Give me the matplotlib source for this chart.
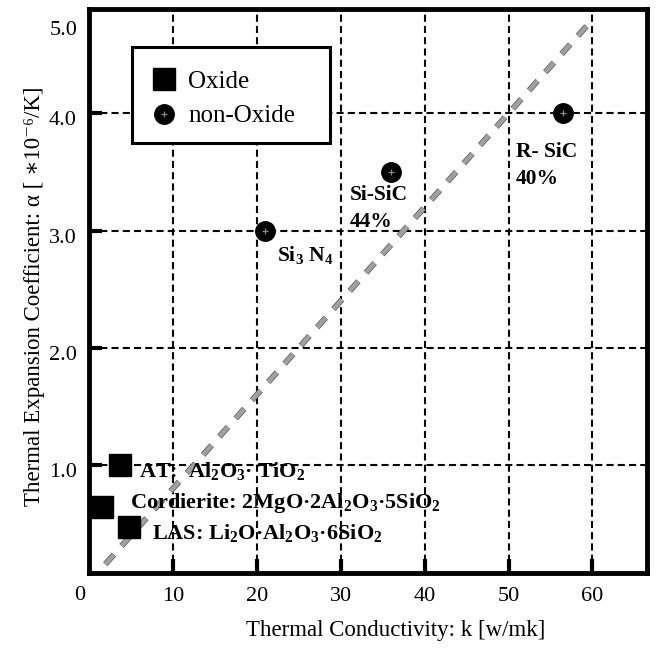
"""
Thermal expansion coefficient vs thermal conductivity of ceramic materials
"""
import numpy as np
import matplotlib.pyplot as plt
import matplotlib.transforms as mtransforms
from matplotlib.patches import Rectangle
from matplotlib import patheffects

plt.rcParams['font.family'] = ['Liberation Serif', 'DejaVu Serif']
plt.rcParams['mathtext.fontset'] = 'custom'
plt.rcParams['mathtext.rm'] = 'Liberation Serif'
plt.rcParams['mathtext.default'] = 'regular'

# Data
oxide_k = [3.7, 1.5, 4.8]
oxide_alpha = [1.0, 0.64, 0.47]
oxide_names = ['AT:  Al$_2$O$_3$· TiO$_2$',
               'Cordierite: 2MgO·2Al$_2$O$_3$·5SiO$_2$',
               'LAS: Li$_2$O·Al$_2$O$_3$·6SiO$_2$']

nonoxide_k = [21.0, 36.0, 56.5]
nonoxide_alpha = [3.0, 3.5, 4.0]
nonoxide_names = ['Si$_3$ N$_4$', 'Si-SiC\n44%', 'R- SiC\n40%']

trend_k = [0, 60]
trend_alpha = [0, 4.8]

x_ticks = [10, 20, 30, 40, 50, 60]
y_ticks = [1, 2, 3, 4]

# label anchor positions (data coords, baseline of first line)
oxide_label_pos = [(5.9, 0.90), (4.9, 0.633), (7.5, 0.37)]
nonoxide_label_pos = [(22.4, 2.74), (31.1, 3.26), (50.9, 3.63)]

fig = plt.figure(figsize=(6.59, 6.48), dpi=100)
ax = fig.add_axes([89/659, 1-573/648, 558/659, 564/648])
ax.set_xlim(0, 66.5)
ax.set_ylim(0.08, 4.89)

# dashed grid
for x in x_ticks:
    ax.axvline(x, color='black', lw=1.5, dashes=(3.4, 2.0), zorder=1)
for y in y_ticks:
    ax.axhline(y, color='black', lw=1.5, dashes=(3.4, 2.0), zorder=1)

# trend line
ax.plot(trend_k, trend_alpha, color='#a0a0a0', lw=3.2, dashes=(2.9, 2.6),
        solid_capstyle='butt', zorder=2,
        path_effects=[patheffects.Stroke(linewidth=4.2, foreground='#555555'),
                      patheffects.Normal()])

h_ox, = ax.plot(oxide_k, oxide_alpha, 's', color='black', ms=16.5, zorder=3,
                ls='none')
h_no, = ax.plot(nonoxide_k, nonoxide_alpha, 'o', color='black', ms=14,
                zorder=3, ls='none')
h_no2, = ax.plot(nonoxide_k, nonoxide_alpha, '+', color='#8a8a8a', ms=4.5,
                 mew=0.9, zorder=3.5, ls='none')

for name, (x, y) in zip(oxide_names, oxide_label_pos):
    ax.text(x, y, name, fontsize=16, fontweight='bold', va='baseline',
            ha='left', zorder=4)

for name, (x, y) in zip(nonoxide_names, nonoxide_label_pos):
    lines = name.split('\n')
    for i, line in enumerate(lines):
        ax.text(x, y - i*0.23, line, fontsize=15.5, fontweight='bold',
                va='baseline', ha='left', zorder=4)

# legend box
box = Rectangle((132/659, 1-143/648), 198/659, 96/648, transform=fig.transFigure,
                facecolor='white', edgecolor='black', lw=2.2, zorder=5)
ax.add_patch(box)
box.set_clip_on(False)
leg = ax.legend([h_ox, (h_no, h_no2)], ['Oxide', 'non-Oxide'],
                loc='upper left', bbox_to_anchor=((152-89)/558, (573-70)/564),
                frameon=False, fontsize=18, handlelength=0.95,
                handletextpad=0.5, labelspacing=0.5, borderpad=0,
                borderaxespad=0, markerscale=1.0)
leg.set_zorder(6)

# ticks
ax.set_xticks(x_ticks)
ax.set_yticks(y_ticks)
ax.set_yticklabels(['%.1f' % v for v in y_ticks])
ax.tick_params(axis='x', direction='in', length=10, width=3, labelsize=16,
               pad=10)
ax.tick_params(axis='y', direction='in', length=9, width=3, labelsize=16,
               pad=9)
offset = mtransforms.ScaledTranslation(0, -0.05, fig.dpi_scale_trans)
for lab in ax.get_yticklabels():
    lab.set_transform(lab.get_transform() + offset)

ax.text(-1.1, -0.04, '0', fontsize=16, ha='center', va='center',
        transform=ax.get_xaxis_transform())
ax.text(-0.02, 4.71, '5.0', fontsize=16, ha='right', va='center',
        transform=ax.get_yaxis_transform())

for s in ax.spines.values():
    s.set_linewidth(3.5)
    s.set_zorder(7)

ax.set_xlabel('Thermal Conductivity: k [w/mk]', fontsize=16.5)
ax.xaxis.set_label_coords(0.55, -0.083)
ax.set_ylabel('Thermal Expansion Coefficient: α [ ∗10⁻⁶/K]', fontsize=16.5)
ax.yaxis.set_label_coords(-0.078, 0.49)

fig.savefig('out.png', dpi=100, facecolor='white')
